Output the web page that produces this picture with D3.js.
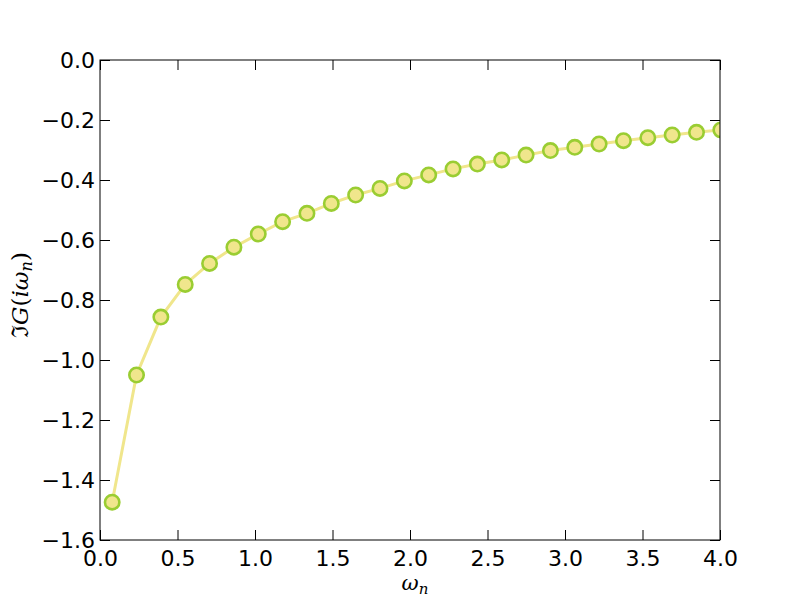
<!DOCTYPE html>
<html><head><meta charset="utf-8">
<script src="https://cdn.jsdelivr.net/npm/d3@7"></script>
<style>body{margin:0;background:#fff}svg{display:block}</style>
</head><body>
<svg id="c" width="800" height="600"></svg>
<script>
const omega = [0.0785,0.2356,0.3927,0.5498,0.7069,0.8639,1.0210,1.1781,1.3352,1.4923,1.6493,1.8064,1.9635,2.1206,2.2777,2.4347,2.5918,2.7489,2.9060,3.0631,3.2201,3.3772,3.5343,3.6914,3.8485,4.0055];
const imG = [-1.474,-1.050,-0.857,-0.748,-0.678,-0.624,-0.580,-0.539,-0.511,-0.478,-0.450,-0.428,-0.403,-0.383,-0.363,-0.347,-0.333,-0.317,-0.302,-0.291,-0.280,-0.269,-0.259,-0.250,-0.241,-0.233];
const xTicks = [0,0.5,1,1.5,2,2.5,3,3.5,4];
const yTicks = [-1.6,-1.4,-1.2,-1.0,-0.8,-0.6,-0.4,-0.2,0.0];

const L=100,R=720,T=60,B=540;
const svg=d3.select("#c");
const x=d3.scaleLinear().domain([0,4]).range([L,R]);
const y=d3.scaleLinear().domain([-1.6,0]).range([B,T]);
const fmt=d=>d3.format(".1f")(d).replace("-","\u2212");

svg.append("clipPath").attr("id","clip").append("rect").attr("x",L).attr("y",T).attr("width",R-L).attr("height",B-T);
const g=svg.append("g").attr("clip-path","url(#clip)");
const pts=omega.map((o,i)=>[o,imG[i]]);
g.append("path").datum(pts).attr("fill","none").attr("stroke","#f0e68c").attr("stroke-width",3)
 .attr("d",d3.line().x(d=>x(d[0])).y(d=>y(d[1])));
g.selectAll("circle").data(pts).enter().append("circle")
 .attr("cx",d=>x(d[0])).attr("cy",d=>y(d[1])).attr("r",7.2)
 .attr("fill","#f0e68c").attr("stroke","#9acd32").attr("stroke-width",2.6);

const tl=10, font="DejaVu Sans", fs=22;
const ax=svg.append("g");
const xb=ax.append("g").attr("transform",`translate(0,${B})`).call(d3.axisBottom(x).tickValues(xTicks).tickSize(-tl).tickPadding(10).tickFormat(fmt));
const xt=ax.append("g").attr("transform",`translate(0,${T})`).call(d3.axisTop(x).tickValues(xTicks).tickSize(-tl).tickFormat(""));
const yl=ax.append("g").attr("transform",`translate(${L},0)`).call(d3.axisLeft(y).tickValues(yTicks).tickSize(-tl).tickPadding(5).tickFormat(fmt));
const yr=ax.append("g").attr("transform",`translate(${R},0)`).call(d3.axisRight(y).tickValues(yTicks).tickSize(-tl).tickFormat(""));
[xb,xt,yl,yr].forEach(a=>{a.select(".domain").remove();a.selectAll("line").attr("stroke","#000").attr("stroke-width",1);
 a.selectAll("text").attr("font-family",font).attr("font-size",fs).attr("fill","#000");});
ax.append("rect").attr("x",L).attr("y",T).attr("width",R-L).attr("height",B-T).attr("fill","none").attr("stroke","#000").attr("stroke-width",1);

// axis labels
const xl=svg.append("text").attr("x",(L+R)/2+5).attr("y",590).attr("text-anchor","middle").attr("font-family","DejaVu Serif").attr("font-size",21);
xl.append("tspan").attr("font-style","italic").text("\u03c9");
xl.append("tspan").attr("font-style","italic").attr("font-size",15).attr("dy",4).text("n");
const ylab=svg.append("text").attr("transform",`translate(28,${(T+B)/2-5}) rotate(-90)`).attr("text-anchor","middle").attr("font-family","DejaVu Serif").attr("font-size",23);
ylab.append("tspan").text("\u2111");
ylab.append("tspan").attr("font-style","italic").text("G");
ylab.append("tspan").text("(");
ylab.append("tspan").attr("font-style","italic").text("i\u03c9");
ylab.append("tspan").attr("font-style","italic").attr("font-size",16).attr("dy",4).text("n");
ylab.append("tspan").attr("dy",-4).text(")");
</script>
</body></html>
